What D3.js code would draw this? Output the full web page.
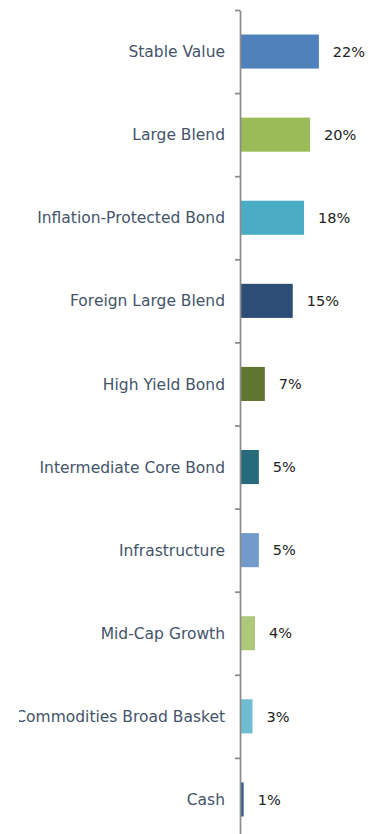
<!DOCTYPE html>
<html>
<head>
<meta charset="utf-8">
<script src="https://cdn.jsdelivr.net/npm/d3@7/dist/d3.min.js"></script>
<style>
  html, body { margin: 0; padding: 0; background: #fff; }
  svg { display: block; }
</style>
</head>
<body>
<svg id="chart" width="377" height="834"></svg>
<script>
var categories = ["Stable Value", "Large Blend", "Inflation-Protected Bond", "Foreign Large Blend",
  "High Yield Bond", "Intermediate Core Bond", "Infrastructure", "Mid-Cap Growth",
  "Commodities Broad Basket", "Cash"];
var values = [22.2, 19.7, 18.0, 14.8, 6.9, 5.2, 5.2, 4.1, 3.4, 0.9];
var valueLabels = ["22%", "20%", "18%", "15%", "7%", "5%", "5%", "4%", "3%", "1%"];
var colors = ["#4f81bd", "#9bbb59", "#4bacc6", "#2c4d75", "#5f7530", "#276a7c",
  "#729aca", "#afc97a", "#6fbdd1", "#3a5f8f"];

var width = 377, height = 834;
var chartTop = 10, chartBottom = 841; // chart runs a little past the window
var axisX = 240;

var svg = d3.select("#chart");

// x scale, percent -> px
var x = d3.scaleLinear().domain([0, 25]).range([axisX + 0.5, axisX + 0.5 + 25 * 3.53]);

// bands for the bars
var y = d3.scaleBand().domain(categories).range([chartTop, chartBottom])
  .paddingInner(0.59).paddingOuter(0.295);

// boundary ticks (Excel style, ticks between categories)
var yb = d3.scaleLinear().domain([0, categories.length]).range([chartTop, chartBottom]);

svg.append("defs").append("clipPath").attr("id", "clip")
  .append("rect").attr("x", 19).attr("y", 0).attr("width", width).attr("height", height);

// bars
svg.append("g").selectAll("rect")
  .data(values).enter()
  .append("rect")
  .attr("x", x(0))
  .attr("y", function(d, i) { return y(categories[i]); })
  .attr("width", function(d) { return x(d) - x(0); })
  .attr("height", y.bandwidth())
  .attr("fill", function(d, i) { return colors[i]; });

// value labels
svg.append("g").selectAll("text")
  .data(values).enter()
  .append("text")
  .attr("x", function(d) { return x(d) + 14; })
  .attr("y", function(d, i) { return y(categories[i]) + y.bandwidth() / 2; })
  .attr("dy", "0.36em")
  .attr("font-family", "DejaVu Sans, sans-serif")
  .attr("font-size", 14.5)
  .attr("fill", "#222")
  .text(function(d, i) { return valueLabels[i]; });

// category labels
svg.append("g").attr("clip-path", "url(#clip)").selectAll("text")
  .data(categories).enter()
  .append("text")
  .attr("x", 225)
  .attr("y", function(d) { return y(d) + y.bandwidth() / 2; })
  .attr("dy", "0.36em")
  .attr("text-anchor", "end")
  .attr("font-family", "DejaVu Sans, sans-serif")
  .attr("font-size", 15.5)
  .attr("fill", "#44546a")
  .text(function(d) { return d; });

// axis
var axis = svg.append("g").attr("transform", "translate(" + axisX + ",0)")
  .call(d3.axisLeft(yb).tickValues(d3.range(0, categories.length + 1)).tickFormat("").tickSize(5).tickSizeOuter(0));
axis.selectAll("path, line").attr("stroke", "#8c8c8c").attr("stroke-width", 1.75);
</script>
</body>
</html>
